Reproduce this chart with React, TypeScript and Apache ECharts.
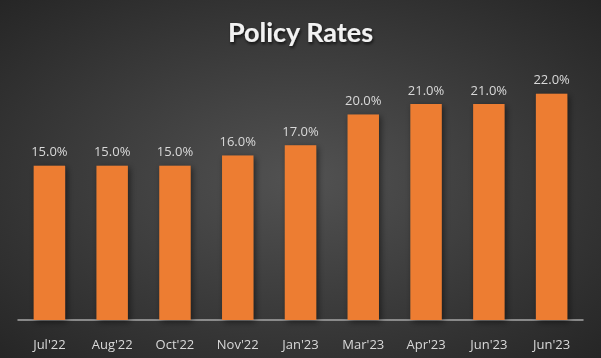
import React, { useEffect, useRef } from "react";
import * as echarts from "echarts";

const categories = ["Jul'22", "Aug'22", "Oct'22", "Nov'22", "Jan'23", "Mar'23", "Apr'23", "Jun'23", "Jun'23"];
const rates = [15, 15, 15, 16, 17, 20, 21, 21, 22];

export default function App() {
  const ref = useRef<HTMLDivElement>(null);
  useEffect(() => {
    const chart = echarts.init(ref.current!, null, { renderer: "svg" });
    chart.setOption({
      animation: false,
      backgroundColor: {
        type: "radial",
        x: 0.5,
        y: 0.5,
        r: 0.75,
        colorStops: [
          { offset: 0, color: "#525252" },
          { offset: 1, color: "#232323" },
        ],
      },
      title: {
        text: "Policy Rates",
        left: "center",
        top: 13,
        textStyle: {
          color: "#f2f2f2",
          fontSize: 27,
          fontWeight: "bold",
          fontFamily: "Lato",
          textShadowColor: "rgba(0,0,0,0.7)",
          textShadowBlur: 3,
          textShadowOffsetX: 1,
          textShadowOffsetY: 2,
        },
      },
      grid: { left: 18, right: 18, top: 63, bottom: 38, containLabel: false },
      xAxis: {
        type: "category",
        data: categories,
        axisLine: { lineStyle: { color: "#a6a6a6", width: 1.5 } },
        axisTick: { show: false },
        axisLabel: { color: "#d9d9d9", fontSize: 13, fontFamily: "Open Sans", margin: 17, interval: 0 },
      },
      yAxis: {
        type: "value",
        min: 0,
        max: 25,
        show: false,
        splitLine: { show: false },
      },
      series: [
        {
          type: "bar",
          data: rates,
          barWidth: "50%",
          itemStyle: {
            color: "#ED7D31",
            shadowColor: "rgba(0,0,0,0.5)",
            shadowBlur: 6,
            shadowOffsetX: 2,
            shadowOffsetY: 2,
          },
          label: {
            show: true,
            position: "top",
            distance: 8,
            color: "#d9d9d9",
            fontSize: 13,
            fontFamily: "Open Sans",
            formatter: (p: any) => p.value.toFixed(1) + "%",
          },
        },
      ],
    });
    return () => chart.dispose();
  }, []);
  return <div ref={ref} style={{ position: "fixed", left: 0, top: 0, width: 601, height: 358 }} />;
}
